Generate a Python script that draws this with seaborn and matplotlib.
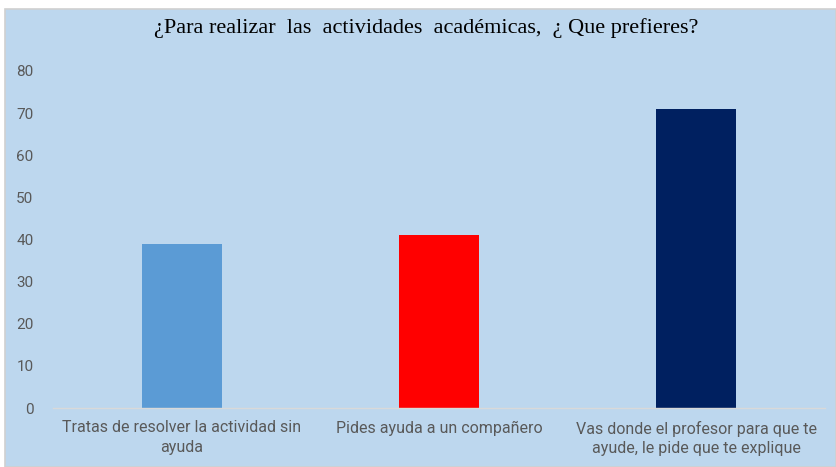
import matplotlib
matplotlib.use("Agg")
import matplotlib.pyplot as plt
import seaborn as sns
import pandas as pd
from matplotlib.patches import Rectangle

categories = [
    "Tratas de resolver la actividad sin\nayuda",
    "Pides ayuda a un compañero",
    "Vas donde el profesor para que te\nayude, le pide que te explique",
]
values = [39, 41, 71]
colors = ["#5B9BD5", "#FF0000", "#002060"]
yticks = [0, 10, 20, 30, 40, 50, 60, 70, 80]

bg = "#BDD7EE"
text_gray = "#595959"

sns.set_style("white")
plt.rcParams["font.family"] = ["Roboto", "DejaVu Sans"]

df = pd.DataFrame({"cat": categories, "val": values})

fig = plt.figure(figsize=(8.36, 4.67), dpi=100, facecolor="white")
# chart area background with thin grey edge like the Excel export
fig.patches.append(Rectangle((5 / 836, 0), 1 - 5 / 836, 1 - 9 / 467,
                             transform=fig.transFigure, facecolor=bg,
                             edgecolor="#D0D0D0", linewidth=1.2, zorder=-10))

ax = fig.add_axes([53 / 836, (467 - 408) / 467, (825 - 53) / 836, (408 - 71) / 467])
ax.set_zorder(1)
ax.set_facecolor(bg)
sns.barplot(data=df, x="cat", y="val", hue="cat", palette=colors,
            width=0.31, legend=False, ax=ax, saturation=1, linewidth=0)

ax.set_ylim(0, 80)
ax.set_xlim(-0.5, 2.5)
ax.set_yticks(yticks)
ax.set_xlabel("")
ax.set_ylabel("")
for s in ["top", "right", "left"]:
    ax.spines[s].set_visible(False)
ax.spines["bottom"].set_color("#D9D9D9")
ax.spines["bottom"].set_linewidth(1)
ax.tick_params(axis="both", length=0, colors=text_gray)
ax.tick_params(axis="y", pad=14, labelsize=11)
ax.tick_params(axis="x", pad=9, labelsize=11.5)
for lbl in ax.get_xticklabels():
    lbl.set_multialignment("center")
    lbl.set_linespacing(1.35)

fig.text(0.51, 1 - 28 / 467, "¿Para realizar  las  actividades  académicas,  ¿ Que prefieres?",
         ha="center", va="center", fontsize=16, family="Liberation Serif", color="black",
         zorder=5)

fig.savefig("out.png", dpi=100, facecolor="white")
